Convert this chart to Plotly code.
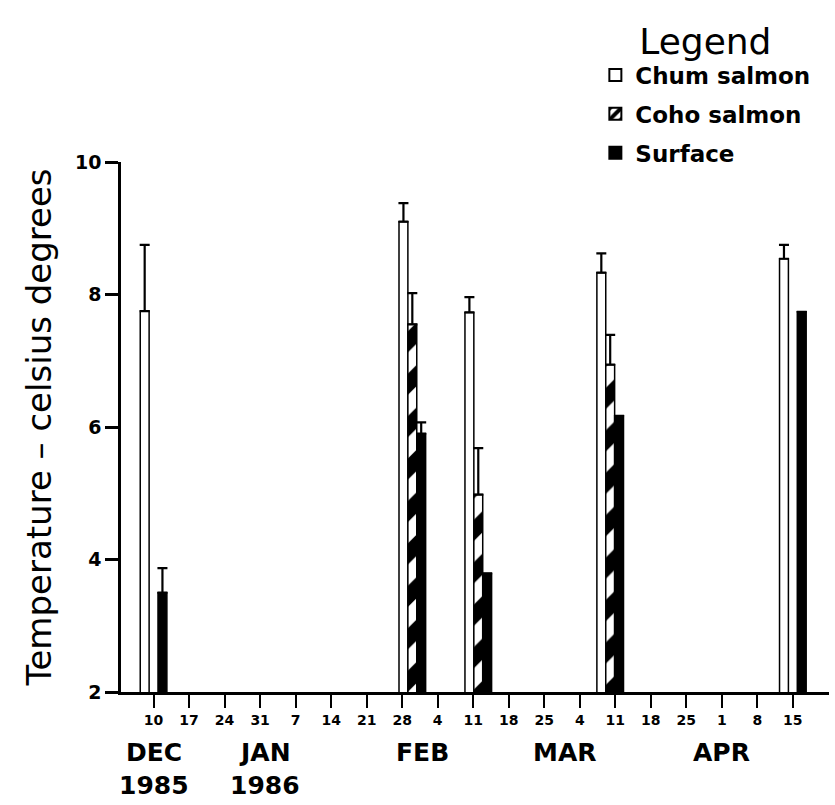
import pandas as pd
import plotly.graph_objects as go

# ---- data ----
sample_dates = ["1985-12-10", "1986-01-30", "1986-02-12", "1986-03-10", "1986-04-15"]
chum = [7.75, 9.10, 7.73, 8.33, 8.54]
chum_err = [1.00, 0.28, 0.23, 0.29, 0.21]
coho = [None, 7.55, 4.98, 6.94, None]
coho_err = [None, 0.47, 0.70, 0.45, None]
surface = [3.50, 5.90, 3.79, 6.17, 7.74]
surface_err = [0.37, 0.17, None, None, None]

tick_dates = list(pd.date_range("1985-12-10", "1986-04-15", freq="7D").strftime("%Y-%m-%d"))
tick_labels = ["10", "17", "24", "31", "7", "14", "21", "28", "4", "11",
               "18", "25", "4", "11", "18", "25", "1", "8", "15"]
month_labels = ["DEC", "JAN", "FEB", "MAR", "APR"]
month_dates = ["1985-12-10", "1986-01-01", "1986-02-01", "1986-03-01", "1986-04-01"]
year_labels = ["1985", "1986"]
year_dates = ["1985-12-10", "1986-01-01"]

DAY = 86400000
BW = 1.75 * DAY
FONT = "DejaVu Sans"

def err(vals):
    return dict(type="data", array=vals, arrayminus=[0 if v is not None else None for v in vals],
                symmetric=False, color="black", thickness=2.2, width=5)

fig = go.Figure()
fig.add_trace(go.Bar(
    name="Chum salmon", x=sample_dates, y=chum, width=BW, offset=-1.5 * BW,
    legendgroup="a",
    marker=dict(color="white", line=dict(color="black", width=1.5)),
    error_y=err(chum_err)))
fig.add_trace(go.Bar(
    name="Coho salmon", x=sample_dates, y=coho, width=BW, offset=-0.5 * BW,
    legendgroup="b",
    marker=dict(color="white", line=dict(color="black", width=1.5),
                pattern=dict(shape="/", fgcolor="black", bgcolor="white", fgopacity=1,
                             size=30, solidity=0.5)),
    error_y=err(coho_err)))
fig.add_trace(go.Bar(
    name="Surface", x=sample_dates, y=surface, width=BW, offset=0.5 * BW,
    legendgroup="c",
    marker=dict(color="black", line=dict(color="black", width=1.5)),
    error_y=err(surface_err)))

annotations = []
for lab, d in zip(month_labels, month_dates):
    annotations.append(dict(x=d, y=0, xref="x", yref="paper", text=lab, showarrow=False,
                            yanchor="middle", yshift=-60,
                            font=dict(family=FONT, size=25, color="black", weight="bold")))
for lab, d in zip(year_labels, year_dates):
    annotations.append(dict(x=d, y=0, xref="x", yref="paper", text=lab, showarrow=False,
                            yanchor="middle", yshift=-93,
                            font=dict(family=FONT, size=25, color="black", weight="bold")))

fig.update_layout(
    width=835, height=805,
    margin=dict(l=121, r=6, t=162, b=113),
    paper_bgcolor="white", plot_bgcolor="white",
    barmode="overlay",
    showlegend=True,
    legend=dict(
        title=dict(text="Legend", side="top center",
                   font=dict(family=FONT, size=36, color="black", weight="normal")),
        font=dict(family=FONT, size=23, color="black", weight="bold"),
        x=0.67, xanchor="left", y=1.293, yanchor="top",
        tracegroupgap=6,
        bgcolor="rgba(0,0,0,0)", itemsizing="constant",
    ),
    annotations=annotations,
    xaxis=dict(
        type="date",
        range=["1985-12-03 14:00", "1986-04-22 03:00"],
        tickmode="array", tickvals=tick_dates, ticktext=tick_labels,
        ticks="outside", ticklen=13, tickwidth=2, tickcolor="black",
        showline=True, linecolor="black", linewidth=2.5,
        showgrid=False, zeroline=False,
        tickfont=dict(family=FONT, size=14, color="black", weight="bold"),
    ),
    yaxis=dict(
        range=[2, 10],
        tickmode="array", tickvals=[2, 4, 6, 8, 10],
        ticks="outside", ticklen=13, tickwidth=2.5, tickcolor="black",
        showline=True, linecolor="black", linewidth=2.5,
        showgrid=False, zeroline=False,
        tickfont=dict(family=FONT, size=19, color="black", weight="bold"),
        title=dict(text="Temperature – celsius degrees", standoff=14,
                   font=dict(family=FONT, size=34, color="black")),
    ),
)

fig.write_html("out.html")
